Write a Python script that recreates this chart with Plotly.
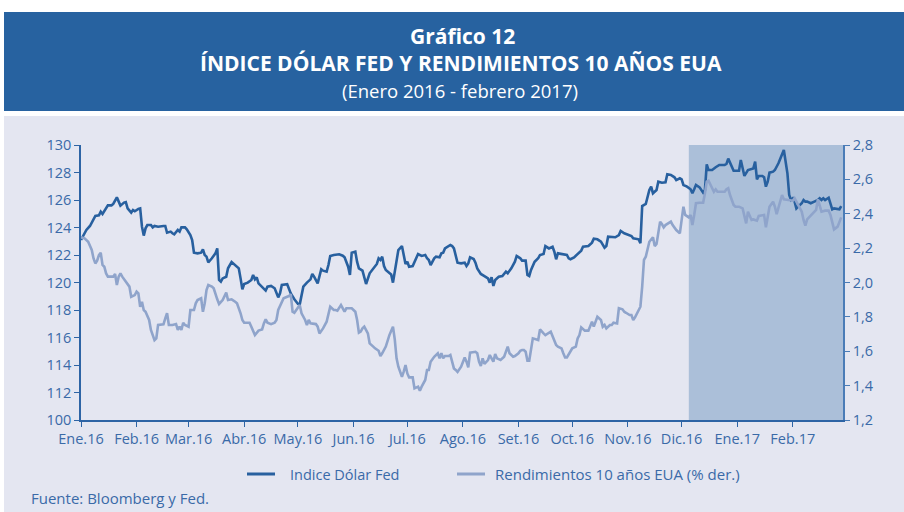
import plotly.graph_objects as go

# ---------------- data ----------------
dollar_dates = [
 "2016-01-01","2016-01-02","2016-01-04","2016-01-06","2016-01-08","2016-01-09","2016-01-11","2016-01-12","2016-01-13","2016-01-14",
 "2016-01-16","2016-01-18","2016-01-19","2016-01-21","2016-01-22","2016-01-23","2016-01-25","2016-01-26","2016-01-27","2016-01-29",
 "2016-01-30","2016-01-31","2016-02-02","2016-02-03","2016-02-04","2016-02-05","2016-02-06","2016-02-07","2016-02-09","2016-02-10",
 "2016-02-11","2016-02-13","2016-02-16","2016-02-17","2016-02-18","2016-02-20","2016-02-21","2016-02-22","2016-02-24","2016-02-25",
 "2016-02-26","2016-02-28","2016-02-29","2016-03-02","2016-03-03","2016-03-04","2016-03-06","2016-03-08","2016-03-09","2016-03-10",
 "2016-03-11","2016-03-12","2016-03-14","2016-03-16","2016-03-17","2016-03-18","2016-03-19","2016-03-20","2016-03-22","2016-03-23",
 "2016-03-25","2016-03-26","2016-03-28","2016-03-29","2016-03-30","2016-03-31","2016-04-01","2016-04-03","2016-04-05","2016-04-06",
 "2016-04-07","2016-04-08","2016-04-09","2016-04-11","2016-04-13","2016-04-14","2016-04-16","2016-04-18","2016-04-20","2016-04-21",
 "2016-04-22","2016-04-25","2016-04-26","2016-04-27","2016-04-29","2016-05-01","2016-05-02","2016-05-03","2016-05-04","2016-05-06",
 "2016-05-08","2016-05-09","2016-05-10","2016-05-12","2016-05-13","2016-05-14","2016-05-15","2016-05-17","2016-05-18","2016-05-19",
 "2016-05-21","2016-05-24","2016-05-26","2016-05-27","2016-05-29","2016-05-30","2016-05-31","2016-06-02","2016-06-03","2016-06-04",
 "2016-06-06","2016-06-07","2016-06-08","2016-06-10","2016-06-12","2016-06-14","2016-06-15","2016-06-16","2016-06-17","2016-06-18",
 "2016-06-19","2016-06-21","2016-06-22","2016-06-23","2016-06-25","2016-06-26","2016-06-28","2016-06-29","2016-06-30","2016-07-01",
 "2016-07-02","2016-07-04","2016-07-06","2016-07-07","2016-07-09","2016-07-11","2016-07-12","2016-07-13","2016-07-14","2016-07-16",
 "2016-07-17","2016-07-19","2016-07-20","2016-07-21","2016-07-22","2016-07-24","2016-07-25","2016-07-26","2016-07-27","2016-07-29",
 "2016-07-31","2016-08-02","2016-08-03","2016-08-04","2016-08-05","2016-08-07","2016-08-08","2016-08-09","2016-08-11","2016-08-13",
 "2016-08-15","2016-08-16","2016-08-17","2016-08-18","2016-08-19","2016-08-21","2016-08-23","2016-08-25","2016-08-26","2016-08-28",
 "2016-08-30","2016-08-31","2016-09-02","2016-09-03","2016-09-05","2016-09-06","2016-09-07","2016-09-08","2016-09-10","2016-09-12",
 "2016-09-13","2016-09-15","2016-09-16","2016-09-18","2016-09-20","2016-09-21","2016-09-22","2016-09-23","2016-09-26","2016-09-28",
 "2016-09-29","2016-09-30","2016-10-02","2016-10-04","2016-10-06","2016-10-07","2016-10-10","2016-10-12","2016-10-13","2016-10-15",
 "2016-10-17","2016-10-19","2016-10-20","2016-10-21","2016-10-24","2016-10-25","2016-10-27","2016-10-28","2016-10-30","2016-11-01",
 "2016-11-03","2016-11-04","2016-11-07","2016-11-08","2016-11-09","2016-11-11","2016-11-12","2016-11-13","2016-11-14","2016-11-15",
 "2016-11-17","2016-11-18","2016-11-20","2016-11-22","2016-11-23","2016-11-25","2016-11-27","2016-11-28","2016-11-30","2016-12-01",
 "2016-12-02","2016-12-04","2016-12-06","2016-12-07","2016-12-08","2016-12-09","2016-12-11","2016-12-12","2016-12-13","2016-12-14",
 "2016-12-15","2016-12-16","2016-12-18","2016-12-20","2016-12-22","2016-12-25","2016-12-26","2016-12-27","2016-12-29","2016-12-30",
 "2017-01-01","2017-01-02","2017-01-03","2017-01-04","2017-01-05","2017-01-07","2017-01-09","2017-01-10","2017-01-11","2017-01-12",
 "2017-01-13","2017-01-15","2017-01-16","2017-01-17","2017-01-18","2017-01-19","2017-01-21","2017-01-22","2017-01-24","2017-01-26",
 "2017-01-27","2017-01-29","2017-01-30","2017-01-31","2017-02-01","2017-02-02","2017-02-03","2017-02-04","2017-02-06","2017-02-07",
 "2017-02-08","2017-02-09","2017-02-11","2017-02-13","2017-02-15","2017-02-16","2017-02-17","2017-02-18","2017-02-19","2017-02-21",
 "2017-02-22","2017-02-23","2017-02-24","2017-02-26","2017-02-27","2017-02-28",
]
dollar_index = [
 123.09,123.33,123.82,124.11,124.59,124.84,124.89,125.15,124.98,125.22,
 125.61,125.61,125.71,126.19,125.88,125.59,125.81,125.85,125.39,125.08,
 125.27,125.18,125.35,125.39,124.06,123.41,123.94,124.18,124.18,124.01,
 124.11,124.06,124.11,124.11,123.62,123.70,123.58,123.50,123.82,123.70,
 124.01,124.01,123.87,123.45,123.09,122.17,122.12,122.17,122.41,122.00,
 121.88,121.47,121.76,122.12,122.48,120.18,120.06,120.30,120.42,121.03,
 121.49,121.39,121.15,121.03,120.30,119.50,119.89,119.99,120.18,120.55,
 120.23,120.38,119.94,119.70,119.41,119.70,119.75,119.58,118.92,119.21,
 119.82,119.87,119.58,119.21,118.78,118.44,118.41,118.97,119.70,119.99,
 120.23,120.62,120.43,119.94,120.55,120.96,120.86,120.79,121.27,121.93,
 122.00,122.05,121.95,121.83,121.15,120.55,122.17,122.24,121.50,121.03,
 120.86,120.43,119.89,120.67,121.03,121.35,121.76,121.64,121.88,121.20,
 120.91,120.72,120.59,119.99,121.76,122.36,122.65,122.07,121.35,121.51,
 121.15,121.20,121.88,122.07,121.93,122.00,121.76,121.64,121.27,121.76,
 121.88,121.83,122.12,122.17,122.48,122.65,122.73,122.65,122.48,121.44,
 121.39,121.44,121.20,121.39,121.83,121.71,121.44,121.03,120.62,120.47,
 120.30,119.99,120.38,119.75,120.18,120.42,120.47,120.79,120.67,121.03,
 121.51,121.93,121.76,121.59,121.59,120.55,120.47,120.91,121.51,121.76,
 122.00,122.07,122.65,122.48,122.60,122.24,121.69,122.12,122.07,122.00,
 121.76,121.69,121.83,122.07,122.32,122.60,122.65,122.90,123.19,123.14,
 122.97,122.53,122.65,123.33,123.33,123.29,123.45,123.75,123.58,123.50,
 123.38,123.21,123.14,122.85,125.56,125.71,126.19,126.73,126.97,126.49,
 126.73,127.33,127.26,127.29,127.87,127.82,127.65,127.45,127.58,127.50,
 127.09,126.97,126.78,126.49,126.78,127.09,126.92,126.73,126.53,126.73,
 128.59,128.18,128.18,128.38,128.55,128.55,128.62,129.01,128.42,128.13,
 128.13,128.13,128.91,128.42,127.75,128.18,128.23,128.30,128.79,127.50,
 127.75,127.75,127.65,126.97,127.33,127.99,128.06,128.18,128.67,129.35,
 129.64,127.94,126.36,126.00,126.12,125.88,125.39,125.52,125.76,126.00,
 125.88,125.88,125.76,125.88,126.00,126.12,126.00,126.12,126.00,126.17,
 125.76,125.32,125.39,125.35,125.32,125.56,
]

yield_dates = [
 "2016-01-01","2016-01-03","2016-01-05","2016-01-07","2016-01-08","2016-01-09","2016-01-10","2016-01-11","2016-01-12","2016-01-13",
 "2016-01-14","2016-01-15","2016-01-16","2016-01-19","2016-01-20","2016-01-21","2016-01-22","2016-01-23","2016-01-24","2016-01-26",
 "2016-01-27","2016-01-28","2016-01-29","2016-01-31","2016-02-01","2016-02-02","2016-02-03","2016-02-04","2016-02-05","2016-02-06",
 "2016-02-08","2016-02-09","2016-02-11","2016-02-12","2016-02-13","2016-02-16","2016-02-17","2016-02-18","2016-02-19","2016-02-21",
 "2016-02-23","2016-02-24","2016-02-25","2016-02-26","2016-02-27","2016-02-28","2016-03-01","2016-03-02","2016-03-04","2016-03-05",
 "2016-03-06","2016-03-08","2016-03-09","2016-03-10","2016-03-11","2016-03-12","2016-03-14","2016-03-15","2016-03-17","2016-03-18",
 "2016-03-20","2016-03-22","2016-03-23","2016-03-25","2016-03-27","2016-03-28","2016-03-30","2016-03-31","2016-04-01","2016-04-04",
 "2016-04-05","2016-04-06","2016-04-07","2016-04-09","2016-04-11","2016-04-12","2016-04-13","2016-04-14","2016-04-16","2016-04-18",
 "2016-04-19","2016-04-20","2016-04-22","2016-04-23","2016-04-25","2016-04-26","2016-04-27","2016-04-28","2016-04-29","2016-05-01",
 "2016-05-02","2016-05-03","2016-05-05","2016-05-06","2016-05-07","2016-05-08","2016-05-10","2016-05-11","2016-05-12","2016-05-13",
 "2016-05-15","2016-05-17","2016-05-19","2016-05-21","2016-05-22","2016-05-23","2016-05-25","2016-05-26","2016-05-27","2016-05-28",
 "2016-05-31","2016-06-02","2016-06-03","2016-06-04","2016-06-05","2016-06-06","2016-06-07","2016-06-09","2016-06-10","2016-06-12",
 "2016-06-13","2016-06-15","2016-06-16","2016-06-17","2016-06-19","2016-06-21","2016-06-22","2016-06-23","2016-06-24","2016-06-25",
 "2016-06-26","2016-06-27","2016-06-28","2016-06-29","2016-06-30","2016-07-01","2016-07-02","2016-07-04","2016-07-05","2016-07-07",
 "2016-07-08","2016-07-09","2016-07-11","2016-07-12","2016-07-13","2016-07-14","2016-07-16","2016-07-18","2016-07-19","2016-07-20",
 "2016-07-21","2016-07-22","2016-07-24","2016-07-25","2016-07-26","2016-07-27","2016-07-28","2016-07-29","2016-07-31","2016-08-01",
 "2016-08-02","2016-08-03","2016-08-04","2016-08-05","2016-08-08","2016-08-09","2016-08-10","2016-08-11","2016-08-12","2016-08-13",
 "2016-08-15","2016-08-16","2016-08-18","2016-08-19","2016-08-20","2016-08-22","2016-08-24","2016-08-26","2016-08-27","2016-08-29",
 "2016-08-30","2016-09-01","2016-09-02","2016-09-03","2016-09-04","2016-09-05","2016-09-06","2016-09-07","2016-09-08","2016-09-09",
 "2016-09-12","2016-09-13","2016-09-15","2016-09-16","2016-09-19","2016-09-20","2016-09-22","2016-09-23","2016-09-25","2016-09-26",
 "2016-09-27","2016-09-28","2016-09-30","2016-10-01","2016-10-03","2016-10-04","2016-10-05","2016-10-06","2016-10-08","2016-10-10",
 "2016-10-12","2016-10-13","2016-10-15","2016-10-17","2016-10-18","2016-10-19","2016-10-20","2016-10-22","2016-10-23","2016-10-24",
 "2016-10-26","2016-10-27","2016-10-29","2016-10-30","2016-10-31","2016-11-02","2016-11-03","2016-11-04","2016-11-05","2016-11-06",
 "2016-11-08","2016-11-09","2016-11-10","2016-11-11","2016-11-12","2016-11-13","2016-11-15","2016-11-16","2016-11-17","2016-11-18",
 "2016-11-19","2016-11-20","2016-11-21","2016-11-22","2016-11-24","2016-11-25","2016-11-26","2016-11-27","2016-11-28","2016-11-30",
 "2016-12-01","2016-12-02","2016-12-03","2016-12-04","2016-12-05","2016-12-06","2016-12-07","2016-12-08","2016-12-09","2016-12-11",
 "2016-12-13","2016-12-14","2016-12-15","2016-12-16","2016-12-17","2016-12-18","2016-12-19","2016-12-20","2016-12-21","2016-12-23",
 "2016-12-25","2016-12-26","2016-12-27","2016-12-28","2016-12-30","2016-12-31","2017-01-02","2017-01-04","2017-01-05","2017-01-06",
 "2017-01-07","2017-01-08","2017-01-09","2017-01-10","2017-01-12","2017-01-13","2017-01-15","2017-01-16","2017-01-17","2017-01-18",
 "2017-01-19","2017-01-21","2017-01-22","2017-01-23","2017-01-24","2017-01-25","2017-01-26","2017-01-27","2017-01-29","2017-01-30",
 "2017-02-01","2017-02-02","2017-02-03","2017-02-04","2017-02-06","2017-02-07","2017-02-08","2017-02-09","2017-02-11","2017-02-13",
 "2017-02-14","2017-02-15","2017-02-16","2017-02-17","2017-02-19","2017-02-21","2017-02-22","2017-02-23","2017-02-24","2017-02-26",
 "2017-02-27","2017-02-28",
]
yield_10y = [
 2.263,2.257,2.237,2.189,2.140,2.111,2.127,2.160,2.173,2.102,
 2.092,2.053,2.034,2.034,2.049,1.985,2.034,2.053,2.034,2.005,
 1.995,1.976,1.917,1.927,1.947,1.937,1.859,1.888,1.840,1.830,
 1.782,1.724,1.665,1.675,1.753,1.757,1.791,1.821,1.753,1.753,
 1.758,1.724,1.743,1.724,1.766,1.753,1.743,1.840,1.840,1.879,
 1.898,1.908,1.830,1.879,1.956,1.985,1.976,1.966,1.902,1.875,
 1.898,1.941,1.898,1.902,1.888,1.879,1.821,1.782,1.766,1.766,
 1.743,1.714,1.694,1.720,1.727,1.762,1.786,1.766,1.758,1.766,
 1.782,1.840,1.883,1.908,1.917,1.921,1.933,1.830,1.824,1.850,
 1.869,1.821,1.782,1.753,1.782,1.762,1.758,1.758,1.743,1.704,
 1.733,1.772,1.859,1.840,1.840,1.836,1.869,1.850,1.830,1.850,
 1.850,1.830,1.782,1.708,1.714,1.733,1.743,1.704,1.646,1.627,
 1.617,1.603,1.572,1.588,1.627,1.694,1.714,1.743,1.669,1.559,
 1.510,1.481,1.452,1.481,1.520,1.471,1.448,1.448,1.384,1.394,
 1.371,1.394,1.433,1.491,1.491,1.539,1.568,1.588,1.559,1.588,
 1.559,1.572,1.572,1.578,1.539,1.500,1.491,1.480,1.510,1.533,
 1.564,1.539,1.506,1.592,1.597,1.588,1.539,1.514,1.559,1.526,
 1.549,1.578,1.539,1.584,1.559,1.549,1.568,1.627,1.588,1.568,
 1.572,1.588,1.603,1.607,1.607,1.597,1.545,1.545,1.617,1.675,
 1.665,1.727,1.704,1.694,1.714,1.685,1.636,1.627,1.617,1.588,
 1.564,1.564,1.597,1.617,1.627,1.675,1.694,1.739,1.720,1.720,
 1.772,1.743,1.801,1.782,1.743,1.753,1.733,1.753,1.753,1.766,
 1.762,1.850,1.844,1.830,1.824,1.811,1.811,1.782,1.797,1.821,
 1.859,1.976,2.131,2.150,2.189,2.237,2.263,2.212,2.224,2.305,
 2.354,2.340,2.321,2.334,2.348,2.354,2.334,2.321,2.305,2.286,
 2.373,2.441,2.393,2.383,2.379,2.393,2.334,2.393,2.461,2.464,
 2.464,2.519,2.587,2.592,2.567,2.548,2.528,2.542,2.528,2.528,
 2.528,2.542,2.548,2.509,2.451,2.441,2.441,2.431,2.393,2.344,
 2.412,2.387,2.364,2.367,2.360,2.387,2.393,2.393,2.321,2.393,
 2.441,2.470,2.441,2.398,2.441,2.480,2.509,2.484,2.480,2.476,
 2.476,2.490,2.470,2.451,2.412,2.364,2.331,2.367,2.387,2.406,
 2.422,2.484,2.441,2.412,2.418,2.418,2.393,2.354,2.309,2.325,
 2.354,2.379,
]

month_ticks = ["2016-01-01","2016-02-01","2016-03-01","2016-04-01","2016-05-01","2016-06-01","2016-07-01",
               "2016-08-01","2016-09-01","2016-10-01","2016-11-01","2016-12-01","2017-01-01","2017-02-01"]
month_labels = ["Ene.16","Feb.16","Mar.16","Abr.16","May.16","Jun.16","Jul.16",
                "Ago.16","Set.16","Oct.16","Nov.16","Dic.16","Ene.17","Feb.17"]
left_ticks = [110, 112, 114, 116, 118, 120, 122, 124, 126, 128, 130]
left_labels = ["100", "112", "114", "116", "118", "120", "122", "124", "126", "128", "130"]
right_ticks = [1.2, 1.4, 1.6, 1.8, 2.0, 2.2, 2.4, 2.6, 2.8]
right_labels = ["1,2", "1,4", "1,6", "1,8", "2,0", "2,2", "2,4", "2,6", "2,8"]
shade_start, shade_end = "2016-12-05", "2017-03-01"

# ---------------- style ----------------
FONT = "Open Sans"
DARK = "#28609f"
LIGHT = "#8fa4cb"
TXT = "#3a6aa8"
PANEL = "#e4e6f1"
BANNER = "#2762a0"
SHADE = "#abbfd9"

W, H = 904, 512
L, R, T, B = 81, 843, 145, 420
def px(xp):  # pixel -> paper x
    return (xp - L) / (R - L)
def py(yp):  # pixel -> paper y
    return (B - yp) / (B - T)

fig = go.Figure()
fig.add_trace(go.Scatter(x=yield_dates, y=yield_10y, mode="lines", yaxis="y2",
                         line=dict(color=LIGHT, width=2.6), name="Rendimientos 10 años EUA (% der.)",
                         showlegend=False, hoverinfo="skip"))
fig.add_trace(go.Scatter(x=dollar_dates, y=dollar_index, mode="lines",
                         line=dict(color=DARK, width=2.6), name="Indice Dólar Fed",
                         showlegend=False, hoverinfo="skip"))

shapes = [
    dict(type="rect", xref="paper", yref="paper", x0=px(4), x1=px(904), y0=py(12), y1=py(111),
         fillcolor=BANNER, line=dict(width=0), layer="below"),
    dict(type="rect", xref="paper", yref="paper", x0=px(4), x1=px(904), y0=py(116), y1=py(512),
         fillcolor=PANEL, line=dict(width=0), layer="below"),
    dict(type="rect", xref="x", yref="paper", x0=shade_start, x1=shade_end, y0=0, y1=1,
         fillcolor=SHADE, line=dict(width=0), layer="below"),
    dict(type="line", xref="paper", yref="paper", x0=px(247), x1=px(275), y0=py(474), y1=py(474),
         line=dict(color=DARK, width=3)),
    dict(type="line", xref="paper", yref="paper", x0=px(457), x1=px(485), y0=py(474), y1=py(474),
         line=dict(color=LIGHT, width=3)),
]

annotations = [
    dict(text="<b>Gráfico 12</b>", x=px(462), y=py(36), xref="paper", yref="paper",
         showarrow=False, font=dict(family=FONT, size=21, color="white"), xanchor="center", yanchor="middle"),
    dict(text="<b>ÍNDICE DÓLAR FED Y RENDIMIENTOS 10 AÑOS EUA</b>", x=px(461), y=py(63), xref="paper", yref="paper",
         showarrow=False, font=dict(family=FONT, size=21, color="white"), xanchor="center", yanchor="middle"),
    dict(text="(Enero 2016 - febrero 2017)", x=px(460), y=py(90), xref="paper", yref="paper",
         showarrow=False, font=dict(family=FONT, size=18.5, color="white"), xanchor="center", yanchor="middle"),
    dict(text="Indice Dólar Fed", x=px(288), y=py(474), xref="paper", yref="paper",
         showarrow=False, font=dict(family=FONT, size=14.5, color=TXT), xanchor="left", yanchor="middle"),
    dict(text="Rendimientos 10 años EUA (% der.)", x=px(493), y=py(474), xref="paper", yref="paper",
         showarrow=False, font=dict(family=FONT, size=15, color=TXT), xanchor="left", yanchor="middle"),
    dict(text="Fuente: Bloomberg y Fed.", x=px(29), y=py(498), xref="paper", yref="paper",
         showarrow=False, font=dict(family=FONT, size=15, color=TXT), xanchor="left", yanchor="middle"),
]

fig.update_layout(
    width=W, height=H, template="none",
    margin=dict(l=L, r=W - R, t=T, b=H - B, pad=0),
    paper_bgcolor="white", plot_bgcolor="rgba(0,0,0,0)",
    font=dict(family=FONT, color=TXT),
    showlegend=False, hovermode=False,
    shapes=shapes, annotations=annotations,
    xaxis=dict(type="date", range=["2016-01-01", "2017-03-01"], tickmode="array",
               tickvals=month_ticks, ticktext=month_labels, ticks="outside", ticklen=5,
               tickcolor="#2d64a5", showline=True, linecolor="#2d64a5", linewidth=1.5,
               showgrid=False, zeroline=False, tickfont=dict(size=14.5, color=TXT), automargin=False),
    yaxis=dict(range=[110, 130], tickmode="array", tickvals=left_ticks, ticktext=left_labels,
               ticks="outside", ticklen=5, tickcolor="#2d64a5", showline=True, linecolor="#2d64a5",
               linewidth=1.5, showgrid=False, zeroline=False, tickfont=dict(size=14.5, color=TXT),
               automargin=False),
    yaxis2=dict(range=[1.2, 2.8], overlaying="y", side="right", tickmode="array",
                tickvals=right_ticks, ticktext=right_labels, ticks="outside", ticklen=5,
                tickcolor="#4a7cb7", showline=True, linecolor="#4a7cb7", linewidth=1.5,
                showgrid=False, zeroline=False, tickfont=dict(size=14.5, color=TXT), automargin=False),
)

fig.write_html("out.html", config={"displayModeBar": False},
               post_script="document.body.style.margin='0';document.body.style.overflow='hidden';")
